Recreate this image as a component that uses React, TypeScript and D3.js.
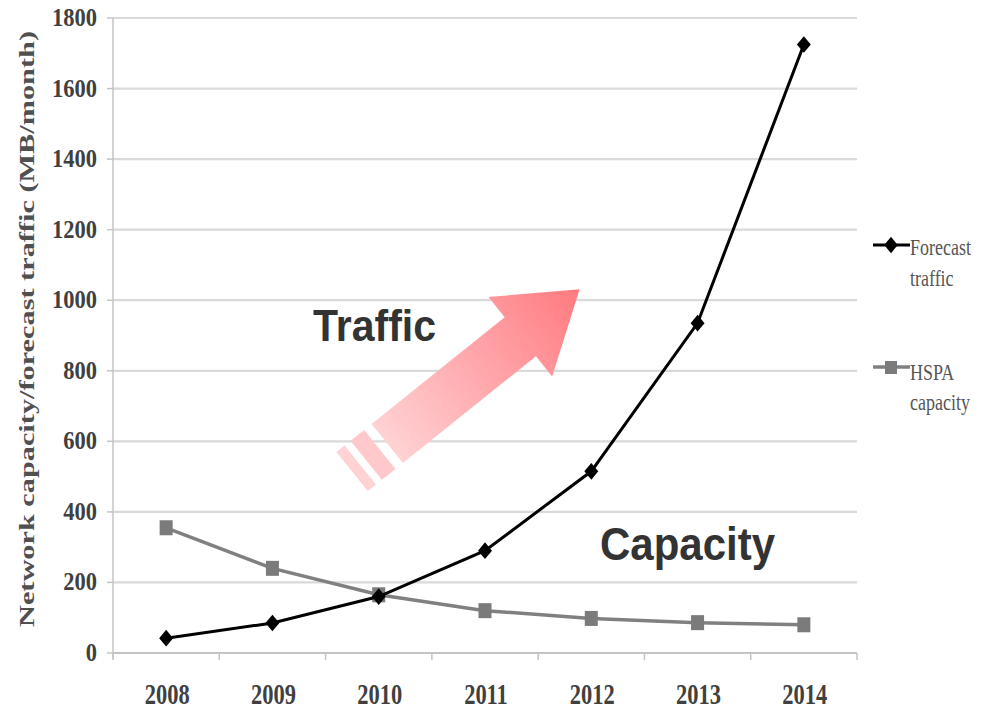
import React from "react";
import * as d3 from "d3";

// Forecast mobile traffic vs HSPA network capacity, MB per month
const years = ["2008", "2009", "2010", "2011", "2012", "2013", "2014"];
const forecastTraffic = [42, 85, 160, 290, 515, 935, 1725];
const hspaCapacity = [355, 240, 165, 120, 98, 86, 80];
const yTicks = [0, 200, 400, 600, 800, 1000, 1200, 1400, 1600, 1800];

// Annotation arrow, given as (fractional year, value) pairs
const arrowTail = { year: 2010.08, value: 594 };
const arrowTip = { year: 2011.89, value: 1031 };

const W = 984;
const H = 711;
const plot = { left: 113, right: 857, top: 18, bottom: 653 };

const serif = "'Liberation Serif', 'DejaVu Serif', serif";
const sans = "'Liberation Sans', Arial, sans-serif";

export default function App() {
  const x = d3.scaleBand<string>().domain(years).range([plot.left, plot.right]).padding(0);
  const y = d3.scaleLinear().domain([0, 1800]).range([plot.bottom, plot.top]);
  const cx = (yr: string) => (x(yr) as number) + x.bandwidth() / 2;
  const yearPos = (yf: number) => cx(years[0]) + (yf - +years[0]) * x.step();

  const line = d3
    .line<number>()
    .x((_, i) => cx(years[i]))
    .y((d) => y(d));

  const diamond = d3.symbol().type(d3.symbolDiamond).size(80)();

  // arrow geometry
  const t0: [number, number] = [yearPos(arrowTail.year), y(arrowTail.value)];
  const t1: [number, number] = [yearPos(arrowTip.year), y(arrowTip.value)];
  const len = Math.hypot(t1[0] - t0[0], t1[1] - t0[1]);
  const u: [number, number] = [(t1[0] - t0[0]) / len, (t1[1] - t0[1]) / len];
  const v: [number, number] = [-u[1], u[0]];
  const P = (a: number, b: number): [number, number] => [
    t0[0] + u[0] * a + v[0] * b,
    t0[1] + u[1] * a + v[1] * b,
  ];
  const shaftHalf = 25;
  const headHalf = 51;
  const headLen = 76;
  const base = len - headLen;
  const arrowPts = [
    P(0, -shaftHalf),
    P(base, -shaftHalf),
    P(base, -headHalf),
    P(len, 0),
    P(base, headHalf),
    P(base, shaftHalf),
    P(0, shaftHalf),
  ];
  const stripe = (a: number, b: number) =>
    [P(a, -shaftHalf), P(b, -shaftHalf), P(b, shaftHalf), P(a, shaftHalf)];
  const pts = (p: [number, number][]) => p.map((q) => q.join(",")).join(" ");

  const boundaries = years.map((yr) => x(yr) as number).concat([plot.right]);

  return (
    <svg
      width={W}
      height={H}
      style={{ position: "absolute", left: 0, top: 0, background: "#fff" }}
    >
      <defs>
        <linearGradient
          id="arrowFill"
          gradientUnits="userSpaceOnUse"
          x1={t0[0]}
          y1={t0[1]}
          x2={t1[0]}
          y2={t1[1]}
        >
          <stop offset="0" stopColor="#ffd2d4" />
          <stop offset="1" stopColor="#ff7a80" />
        </linearGradient>
      </defs>

      {/* gridlines */}
      {yTicks.slice(1).map((t) => (
        <line
          key={t}
          x1={plot.left}
          x2={plot.right}
          y1={y(t)}
          y2={y(t)}
          stroke="#d9d9d9"
          strokeWidth={2.2}
        />
      ))}

      {/* axes */}
      <line x1={plot.left} x2={plot.left} y1={plot.top} y2={plot.bottom + 6} stroke="#c4c4c4" strokeWidth={1.5} />
      <line x1={plot.left} x2={plot.right} y1={plot.bottom} y2={plot.bottom} stroke="#c4c4c4" strokeWidth={1.8} />
      {yTicks.map((t) => (
        <line key={t} x1={plot.left - 6} x2={plot.left} y1={y(t)} y2={y(t)} stroke="#c4c4c4" strokeWidth={1.5} />
      ))}
      {boundaries.map((b, i) => (
        <line key={i} x1={b} x2={b} y1={plot.bottom} y2={plot.bottom + 7} stroke="#c4c4c4" strokeWidth={1.5} />
      ))}

      {/* y tick labels */}
      {yTicks.map((t) => (
        <text
          key={t}
          transform={`translate(97, ${y(t) + 8}) scale(1, 1.15)`}
          textAnchor="end"
          fontFamily={serif}
          fontWeight="bold"
          fontSize={22.5}
          fill="#404040"
        >
          {t}
        </text>
      ))}

      {/* x tick labels */}
      {years.map((yr) => (
        <text
          key={yr}
          transform={`translate(${cx(yr) + 1}, 704) scale(1, 1.3)`}
          textAnchor="middle"
          fontFamily={serif}
          fontWeight="bold"
          fontSize={22.5}
          fill="#404040"
        >
          {yr}
        </text>
      ))}

      {/* y axis title */}
      <text
        transform="translate(34, 329) rotate(-90)"
        textAnchor="middle"
        fontFamily={serif}
        fontWeight="bold"
        fontSize={21}
        fill="#505050"
        textLength={596}
        lengthAdjust="spacingAndGlyphs"
      >
        Network capacity/forecast traffic (MB/month)
      </text>

      {/* annotation arrow */}
      <polygon points={pts(arrowPts)} fill="url(#arrowFill)" />
      <polygon points={pts(stripe(-27, -9.5))} fill="#ffc9cb" />
      <polygon points={pts(stripe(-45, -34.5))} fill="#ffd2d3" />

      <text
        transform="translate(313, 341) scale(1, 1.08)"
        fontFamily={sans}
        fontWeight="bold"
        fontSize={41}
        fill="#333"
      >
        Traffic
      </text>
      <text
        transform="translate(600, 560) scale(1, 1.08)"
        fontFamily={sans}
        fontWeight="bold"
        fontSize={42}
        fill="#333"
      >
        Capacity
      </text>

      {/* HSPA capacity series */}
      <path d={line(hspaCapacity) ?? ""} fill="none" stroke="#808080" strokeWidth={3.5} />
      {hspaCapacity.map((d, i) => (
        <rect
          key={i}
          x={cx(years[i]) - 6.5}
          y={y(d) - 7.5}
          width={13}
          height={15}
          fill="#7b7b7b"
        />
      ))}

      {/* forecast traffic series */}
      <path d={line(forecastTraffic) ?? ""} fill="none" stroke="#000" strokeWidth={3} />
      {forecastTraffic.map((d, i) => (
        <path
          key={i}
          d={diamond ?? ""}
          transform={`translate(${cx(years[i])}, ${y(d)}) scale(1.45, 1)`}
          fill="#000"
        />
      ))}

      {/* legend */}
      <g>
        <line x1={873} x2={910} y1={245} y2={245} stroke="#000" strokeWidth={3} />
        <path d={diamond ?? ""} transform="translate(891, 245) scale(1.4, 1)" fill="#000" />
        <text transform="translate(910, 255) scale(1, 1.25)" fontFamily={serif} fontSize={18} fill="#555">
          Forecast
        </text>
        <text transform="translate(910, 286) scale(1, 1.25)" fontFamily={serif} fontSize={18} fill="#555">
          traffic
        </text>

        <line x1={873} x2={910} y1={367} y2={367} stroke="#808080" strokeWidth={3.5} />
        <rect x={885} y={361} width={12} height={13} fill="#7b7b7b" />
        <text transform="translate(910, 380) scale(1, 1.25)" fontFamily={serif} fontSize={18} fill="#555">
          HSPA
        </text>
        <text transform="translate(910, 410) scale(1, 1.25)" fontFamily={serif} fontSize={18} fill="#555">
          capacity
        </text>
      </g>
    </svg>
  );
}
